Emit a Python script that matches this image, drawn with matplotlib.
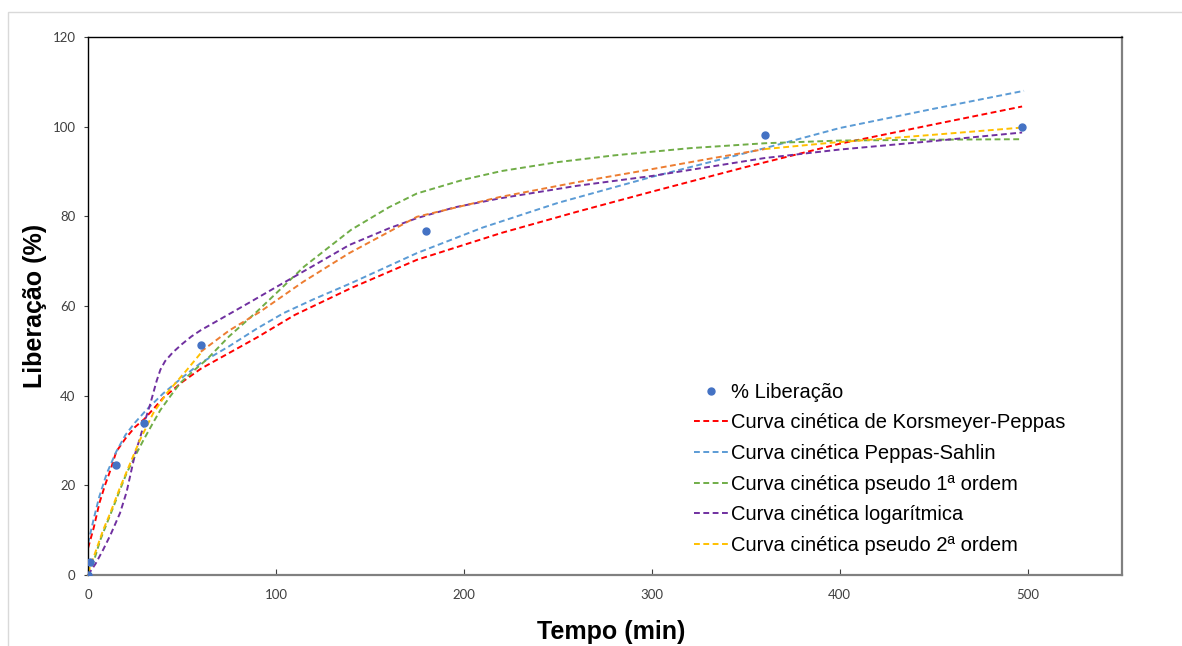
import matplotlib
matplotlib.use("Agg")
import matplotlib.pyplot as plt
from matplotlib.patches import Rectangle

# experimental points
tempo = [0, 1, 15, 30, 60, 180, 360, 497]
liberacao = [0, 2.8, 24.5, 33.8, 51.3, 76.8, 98.2, 100]

# fitted curves, values
kp_t = [0, 3, 6, 9, 12, 15, 20, 25, 30, 40, 50, 60, 75, 90, 110, 140, 175, 220, 260, 300, 350, 400, 450, 497]
kp_y = [6, 10.5, 16, 20, 23.5, 27.5, 30.5, 33, 34.8, 39.5, 43, 46, 49.5, 53, 58, 64, 70.3, 76.3, 81, 85.5, 91, 96.2, 100.5, 104.5]

ps_t = [0, 3, 6, 10, 15, 20, 25, 31, 40, 50, 60, 75, 90, 104, 120, 140, 175, 210, 250, 300, 360, 400, 450, 498]
ps_y = [7, 12.5, 17.5, 22.7, 27.5, 31.3, 34, 36.8, 40.5, 44, 47.3, 51, 55, 58.4, 61.5, 65.1, 71.8, 77.5, 83, 88.8, 95.2, 99.7, 104, 108]

p1_t = [0, 3, 6.5, 10, 13.5, 17, 20.5, 25, 29.5, 34, 38.5, 44, 49, 56, 63, 75, 90, 115, 140, 160, 175, 200, 220, 250, 280, 320, 360, 400, 450, 496]
p1_y = [0, 3, 7.8, 11.5, 15.2, 19, 22.7, 26.5, 30.1, 33.5, 36.8, 40, 42.8, 45.5, 48, 53.2, 58.8, 68.8, 77, 82, 85.1, 88.2, 90.1, 92.1, 93.6, 95.2, 96.3, 96.9, 97.1, 97.2]

log_t = [0, 4, 8, 12, 17, 20.5, 22.3, 25, 27.6, 30, 33, 36.5, 38.5, 41, 45, 50, 55, 60, 68, 86, 100, 120, 139, 160, 175, 195, 219, 260, 300, 360, 400, 450, 497]
log_y = [0, 2.5, 5.6, 9, 13.8, 18.5, 21.9, 27, 30.5, 34, 38, 43.3, 45.8, 47.7, 49.6, 51.5, 53.2, 54.6, 56.5, 60.8, 64.2, 69, 73.6, 77.3, 79.6, 82, 84, 86.8, 89, 93, 94.9, 96.8, 98.7]

p2_t = [0, 3, 8, 12, 17, 21, 27.6, 34.7, 41.8, 52.5, 61, 75, 91.5, 114.5, 139, 175, 219, 260, 297, 330, 360, 395, 450, 497]
p2_y = [0.5, 4, 10, 14, 19.5, 23.5, 30.1, 36.1, 40.5, 45.7, 50, 54.5, 58.7, 65.4, 71.8, 79.9, 84.3, 87.6, 90.3, 92.8, 95, 96.4, 98.2, 99.8]

# extra orange trace lying on top of the 2nd order curve (no legend entry)
extra_t = [60, 75, 91.5, 114.5, 139, 175, 219, 260, 297, 330, 360]
extra_y = [49.8, 54.5, 58.7, 65.4, 71.8, 79.9, 84.3, 87.6, 90.3, 92.8, 95]

plt.rcParams['font.family'] = ['Liberation Sans', 'DejaVu Sans']

fig = plt.figure(figsize=(11.82, 6.46), dpi=100)
ax = fig.add_axes([0.0745, 0.110, 0.8745, 0.8327])

fig.add_artist(Rectangle((8 / 1182, -0.01), 1.1, 1 - 12 / 646 + 0.01, transform=fig.transFigure,
                         fill=False, edgecolor='#d9d9d9', linewidth=1))

dash = (3, 1.8)
lw = 1.4
ax.plot(tempo, liberacao, 'o', color='#4472C4', markersize=5, label='% Liberação', zorder=5)
ax.plot(kp_t, kp_y, color='#FF0000', lw=lw, dashes=dash, label='Curva cinética de Korsmeyer-Peppas')
ax.plot(ps_t, ps_y, color='#5B9BD5', lw=lw, dashes=dash, label='Curva cinética Peppas-Sahlin')
ax.plot(p1_t, p1_y, color='#70AD47', lw=lw, dashes=dash, label='Curva cinética pseudo 1ª ordem')
ax.plot(log_t, log_y, color='#7030A0', lw=lw, dashes=dash, label='Curva cinética logarítmica')
# 2nd order curve: the middle part sits under the orange trace
ax.plot(p2_t[:11], p2_y[:11], color='#FFC000', lw=lw, dashes=dash, label='Curva cinética pseudo 2ª ordem')
ax.plot(p2_t[20:], p2_y[20:], color='#FFC000', lw=lw, dashes=dash)
ax.plot(extra_t, extra_y, color='#ED7D31', lw=lw, dashes=dash)

ax.set_xlim(0, 550)
ax.set_ylim(0, 120)
ax.set_xticks([0, 100, 200, 300, 400, 500])
ax.set_yticks([0, 20, 40, 60, 80, 100, 120])

for lab in ax.get_xticklabels() + ax.get_yticklabels():
    lab.set_family('Lato')
    lab.set_fontsize(9.5)
    lab.set_color('#404040')

ax.tick_params(axis='x', direction='in', length=4, color='#404040', pad=10)
ax.tick_params(axis='y', direction='out', length=3, color='#404040', pad=6)

ax.spines['left'].set_color('black')
ax.spines['top'].set_color('black')
ax.spines['right'].set_color('#808080')
ax.spines['bottom'].set_color('#808080')
ax.spines['bottom'].set_linewidth(1.6)
ax.spines['right'].set_linewidth(1.6)
for s in ['left', 'top']:
    ax.spines[s].set_linewidth(1.0)

ax.set_xlabel('Tempo (min)', fontsize=18, fontweight='bold', va='center')
ax.set_ylabel('Liberação (%)', fontsize=18, fontweight='bold', va='center')
ax.xaxis.set_label_coords(0.506, -0.106)
ax.yaxis.set_label_coords(-0.0513, 0.5)

ax.legend(loc='lower left', bbox_to_anchor=(0.578, 0.022), frameon=False, fontsize=14.5,
          handlelength=1.75, handletextpad=0.1, labelspacing=0.58, borderaxespad=0)

plt.savefig('out.png', dpi=100)
plt.close()
